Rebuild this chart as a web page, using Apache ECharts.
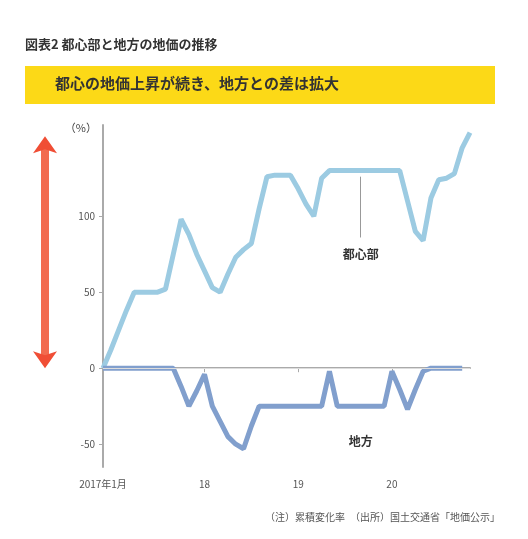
<!DOCTYPE html>
<html>
<head>
<meta charset="utf-8">
<script src="https://cdn.jsdelivr.net/npm/echarts@6/dist/echarts.min.js"></script>
<style>
  html, body { margin: 0; padding: 0; background: #f6f6f6; }
  #chart { width: 528px; height: 539px; }
</style>
</head>
<body>
<div id="chart"></div>
<script>
// 月次データ（2017年1月起点、48カ月）
const months = [];
for (let i = 0; i < 48; i++) months.push(String(i));
const xLabels = { 0: "2017年1月", 13: "18", 25: "19", 37: "20" };

const toshin = [0, 12, 25, 38, 50, 50, 50, 50, 52, 75, 98, 88,
  75, 64, 53, 50, 62, 73, 78, 82, 105, 126, 127, 127,
  127, 118, 108, 100, 125, 130, 130, 130, 130, 130, 130, 130,
  130, 130, 130, 110, 90, 84, 112, 124, 125, 128, 145, 155];
const chihou = [0, 0, 0, 0, 0, 0, 0, 0, 0, 0, -12, -25,
  -15, -4, -25, -35, -45, -50, -53, -38, -25, -25, -25, -25,
  -25, -25, -25, -25, -25, -2, -25, -25, -25, -25, -25, -25,
  -25, -2, -14, -27, -14, -2, 0, 0, 0, 0, 0, null];
const yTicks = [-50, 0, 50, 100];

const font = "'Noto Sans CJK JP', sans-serif";
const chart = echarts.init(document.getElementById("chart"));

const option = {
  backgroundColor: "#ffffff",
  animation: false,
  textStyle: { fontFamily: font },
  grid: { left: 103, right: 58, top: 125, bottom: 72 },
  graphic: [
    { type: "text", left: 25, top: 38,
      style: { text: "図表2 都心部と地方の地価の推移", fontSize: 13, fontWeight: "bold", fill: "#333", fontFamily: font } },
    { type: "rect", left: 25, top: 66, shape: { width: 470, height: 38 },
      style: { fill: "#fcd917" } },
    { type: "text", left: 55, top: 76,
      style: { text: "都心の地価上昇が続き、地方との差は拡大", fontSize: 15, fontWeight: "bold", fill: "#333", fontFamily: font } },
    { type: "text", right: 28, top: 512,
      style: { text: "（注）累積変化率　（出所）国土交通省「地価公示」", fontSize: 10, fill: "#555", fontFamily: font } }
  ],
  xAxis: {
    type: "category",
    data: months,
    boundaryGap: false,
    axisLine: { lineStyle: { color: "#aaa", width: 2 } },
    axisTick: { interval: (i) => xLabels[i] !== undefined, lineStyle: { color: "#aaa" }, length: 4 },
    axisLabel: {
      interval: (i) => xLabels[i] !== undefined,
      formatter: (v, i) => xLabels[i] || "",
      color: "#555", fontSize: 10, margin: 12
    }
  },
  yAxis: {
    type: "value",
    min: -65,
    max: 160,
    name: "（%）",
    nameLocation: "end",
    nameGap: -8,
    nameTextStyle: { color: "#444", fontSize: 11, align: "right", padding: [0, 6, 0, 0] },
    axisLine: { show: true, lineStyle: { color: "#aaa", width: 2 } },
    axisTick: { show: true, customValues: yTicks, lineStyle: { color: "#aaa" }, length: 4 },
    axisLabel: { customValues: yTicks, color: "#555", fontSize: 10 },
    splitLine: { show: false }
  },
  series: [
    {
      name: "都心部",
      type: "line",
      data: toshin,
      symbol: "none",
      lineStyle: { color: "#9ccbe2", width: 5 },
      markLine: {
        silent: true,
        symbol: "none",
        label: { show: false },
        lineStyle: { color: "#999", width: 1, type: "solid" },
        data: [[{ coord: [33, 126] }, { coord: [33, 86] }]]
      },
      markPoint: {
        symbol: "rect",
        symbolSize: 0,
        label: { show: true, formatter: "都心部", color: "#333", fontSize: 12, fontWeight: "bold" },
        data: [{ coord: [33, 75] }]
      }
    },
    {
      name: "地方",
      type: "line",
      data: chihou,
      symbol: "none",
      lineStyle: { color: "#819fcd", width: 5 },
      markLine: {
        silent: true,
        symbol: "none",
        label: { show: false },
        lineStyle: { color: "#ddd", width: 1, type: "solid" },
        data: [{ yAxis: 0 }]
      },
      markPoint: {
        symbol: "rect",
        symbolSize: 0,
        label: { show: true, formatter: "地方", color: "#333", fontSize: 12, fontWeight: "bold" },
        data: [{ coord: [33, -48] }]
      }
    }
  ]
};
chart.setOption(option);

// 左側の赤い両矢印（0→150%）
const yTop = chart.convertToPixel({ yAxisIndex: 0 }, 150) - 4;
const yBot = chart.convertToPixel({ yAxisIndex: 0 }, 0);
chart.setOption({
  graphic: option.graphic.concat([
    { type: "line", shape: { x1: 45, y1: yTop + 10, x2: 45, y2: yBot - 10 },
      style: { stroke: "#f26b4f", lineWidth: 8 } },
    { type: "polygon", shape: { points: [[45, yTop], [33, yTop + 17], [45, yTop + 13], [57, yTop + 17]] },
      style: { fill: "#f04e35" } },
    { type: "polygon", shape: { points: [[45, yBot], [33, yBot - 17], [45, yBot - 13], [57, yBot - 17]] },
      style: { fill: "#f04e35" } }
  ])
});
</script>
</body>
</html>
